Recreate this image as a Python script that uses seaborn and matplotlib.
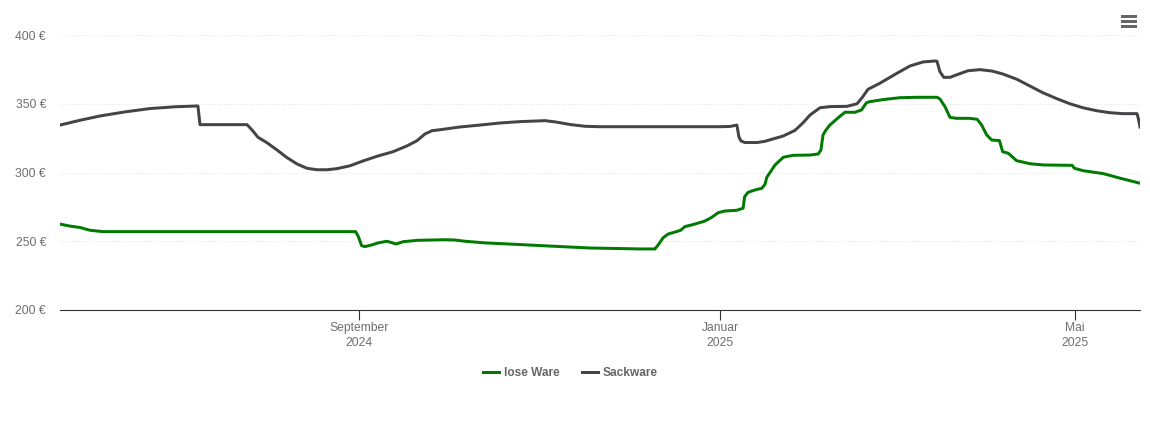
"""
Price history of loose and bagged goods, one line per kind of goods.
"""
import matplotlib.pyplot as plt
from matplotlib.patches import Rectangle
import pandas as pd
import seaborn as sns


def plot_relational_plot(df: pd.DataFrame) -> None:
    fig, ax = plt.subplots(figsize=(11.5, 4.38), dpi=100)
    sns.lineplot(data=df, x='datum', y='preis', hue='sorte', ax=ax,
                 palette={'lose Ware': '#007a00', 'Sackware': '#434348'},
                 linewidth=2.15, estimator=None, sort=False)
    for line in ax.get_lines():
        line.set_solid_joinstyle('round')
    fig.subplots_adjust(left=60 / 1150, right=1140 / 1150,
                        top=1 - 35 / 438, bottom=1 - 310 / 438)
    ax.set_xlim(pd.Timestamp('2024-05-23'),
                pd.Timestamp('2024-05-23') + pd.Timedelta(days=364.9))
    ax.set_ylim(200, 400)
    ax.set_yticks([200, 250, 300, 350, 400])
    ax.set_yticklabels(['200 €', '250 €', '300 €', '350 €', '400 €'])
    ax.set_xticks(pd.to_datetime(['2024-09-01', '2025-01-01', '2025-05-01']))
    ax.set_xticklabels(['September\n2024', 'Januar\n2025', 'Mai\n2025'],
                       linespacing=1.32)
    ax.set_xlabel('')
    ax.set_ylabel('')
    ax.grid(axis='y', color='#e0e0e0', linewidth=0.7, linestyle=(0, (1, 2)))
    ax.set_axisbelow(True)
    ax.tick_params(axis='y', length=0, pad=10, labelsize=8.7, labelcolor='#6e6e6e')
    ax.tick_params(axis='x', length=7.5, width=0.8, color='#333333', pad=1.2,
                   labelsize=8.7, labelcolor='#6e6e6e')
    for side in ['top', 'left', 'right']:
        ax.spines[side].set_visible(False)
    ax.spines['bottom'].set_color('#333333')
    ax.spines['bottom'].set_linewidth(0.8)
    ax.legend(loc='lower center', bbox_to_anchor=(570.5 / 1150, 1 - 379.5 / 438),
              bbox_transform=fig.transFigure, ncol=2, frameon=False,
              prop={'weight': 'bold', 'size': 8.6}, labelcolor='#666666',
              handlelength=1.33, handletextpad=0.42, columnspacing=1.83,
              borderpad=0, borderaxespad=0)
    # menu symbol at the top right
    for y in [15, 20, 25]:
        fig.add_artist(Rectangle((1121 / 1150, 1 - (y + 2.5) / 438),
                                 16 / 1150, 2.5 / 438, facecolor='#666666',
                                 linewidth=0, transform=fig.transFigure))
    plt.savefig('out.png')
    return


def preprocessing(df: pd.DataFrame) -> pd.DataFrame:
    df['datum'] = pd.Timestamp('2024-05-23') + pd.to_timedelta(df['tag'], unit='D')
    return df


def main():
    lose = [
        (0, 262.5), (3.4, 261), (6.8, 260), (10.1, 258), (14.5, 257),
        (96.3, 257), (99.9, 257), (100.8, 253.4), (101.9, 246.8), (103, 246.1),
        (105.3, 247.3), (107.5, 248.8), (110.4, 250), (112.1, 249), (113.5, 248),
        (116, 249.7), (121, 250.7), (130.1, 251.1), (133.4, 250.9), (136.8, 250),
        (143.6, 248.8), (155.4, 247.6), (165.5, 246.5), (179, 245.1), (196, 244.4),
        (201, 244.4), (202.1, 247.3), (203.8, 252.6), (205.5, 255.3), (207.8, 256.7),
        (209.7, 258), (211.1, 260.6), (214.5, 262.5), (217.9, 264.7), (220.2, 267.4),
        (222.4, 270.8), (224.7, 272), (228.6, 272.5), (230.8, 274), (231.3, 282.4),
        (232.5, 285.6), (234.8, 287.3), (237.1, 288.5), (238.2, 291.4), (238.8, 296.5),
        (241.6, 305.5), (244.4, 311.1), (247.7, 312.5), (253.4, 312.7), (256.2, 313.5),
        (257.1, 316.4), (257.8, 327.3), (258.8, 330.9), (260.1, 334.5), (262.8, 339.6),
        (265.2, 343.8), (268.6, 343.8), (270.8, 345.5), (272.5, 350.8), (273.6, 351.5),
        (278, 353), (283.8, 354.4), (289.5, 354.7), (296.3, 354.7), (297.3, 353.5),
        (299, 347.9), (300.7, 340.1), (302.9, 339.4), (307.4, 339.4), (309.9, 338.7),
        (311.4, 334.5), (313.1, 327.3), (314.8, 323.6), (317.4, 323.2), (318.5, 315.1),
        (320.4, 314), (323.2, 308.6), (327.7, 306.4), (332.1, 305.5), (342, 305.2),
        (342.7, 303.1), (345.7, 301.3), (352.5, 299.2), (358.1, 295.9), (364.9, 292.2),
    ]
    sack = [
        (0, 334.5), (6.8, 338), (13.5, 341.1), (22, 344.1), (30.4, 346.5),
        (38.9, 347.8), (46.6, 348.4), (47.3, 334.8), (60.8, 334.8), (63.2, 334.8),
        (64.9, 330.9), (66.9, 325.6), (69.9, 321.7), (73.3, 316.4), (76.7, 310.8),
        (80.1, 306.2), (83.4, 303.1), (86.8, 302), (90.2, 302), (93.6, 302.8),
        (98, 304.9), (102.4, 308.4), (107.1, 311.8), (112.5, 315.1), (117.2, 319.3),
        (120.6, 323.1), (123.3, 328), (125.7, 330.4), (128.4, 331.1), (135.1, 333.1),
        (141.9, 334.5), (148.6, 336), (155.4, 337), (163.9, 337.7), (167.6, 336.7),
        (172.3, 334.9), (177.4, 333.6), (182.4, 333.3), (223, 333.3), (226.4, 333.5),
        (228.7, 334.5), (229.4, 325.8), (230.1, 322.9), (231.4, 321.8), (235.5, 321.8),
        (238.2, 322.7), (240.9, 324.4), (244.3, 326.5), (248.3, 330.6), (251, 336),
        (253.4, 341.8), (256.8, 347.1), (260.1, 347.9), (265.9, 348.1), (269.3, 350),
        (271, 354.4), (273, 360.5), (277, 364.9), (282.8, 372.2), (287.2, 377.5),
        (291.6, 380.4), (295.6, 381.1), (296.3, 380.9), (297.3, 373.3), (298.6, 369.2),
        (300.7, 369.2), (303.4, 371.4), (306.8, 374), (310.8, 374.8), (314.9, 373.8),
        (318.6, 371.6), (323.3, 367.8), (327.7, 362.9), (332.1, 358), (336.8, 353.7),
        (341.2, 350), (345.6, 347.1), (350.3, 344.9), (354.7, 343.5), (359.1, 342.8),
        (363.9, 342.8), (364.3, 339.6), (364.9, 333.1),
    ]
    df_lose = pd.DataFrame(lose, columns=['tag', 'preis'])
    df_lose['sorte'] = 'lose Ware'
    df_sack = pd.DataFrame(sack, columns=['tag', 'preis'])
    df_sack['sorte'] = 'Sackware'
    plt.rcParams['font.family'] = ['Liberation Sans', 'DejaVu Sans']
    df = preprocessing(pd.concat([df_lose, df_sack]))
    plot_relational_plot(df)
    return


if __name__ == '__main__':
    main()
